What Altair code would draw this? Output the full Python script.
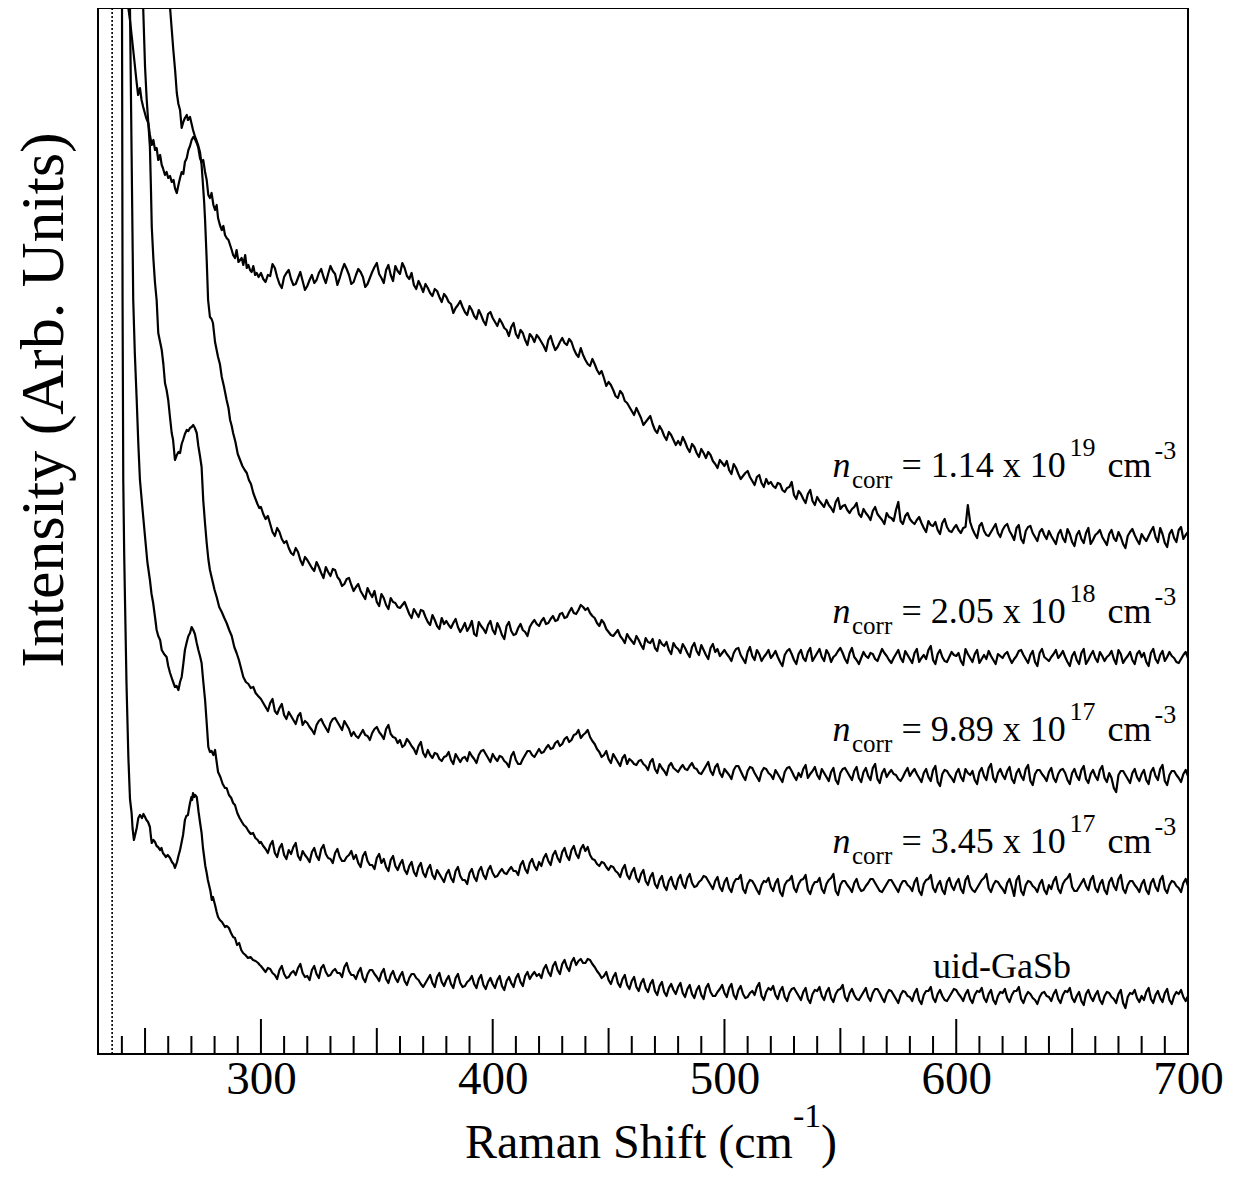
import altair as alt
import pandas as pd

FONT = "Liberation Serif"

# ---------------- data (Raman shift in cm^-1, intensity in arb. units) ----------------
grid_x = list(range(300, 701))

# n = 1.14e19
top_head_x = [242.5, 242.8, 243.5, 244.9, 246.4, 247.0, 247.8, 248.5, 249.2, 250.5, 251.4, 252.1, 252.9, 253.6, 254.3,
              255.0, 255.7, 256.5, 257.2, 257.7, 258.6, 259.3, 260.0, 260.8, 261.5, 262.3, 262.9, 263.7, 264.4, 265.1,
              265.8, 266.5, 267.2, 268.0, 268.7, 269.4, 270.1, 270.8, 271.5, 272.3, 273.0, 273.7, 274.4, 275.1, 275.9,
              276.6, 277.3, 278.0, 278.7, 279.5, 280.2, 280.9, 281.5, 282.3, 283.1, 283.8, 284.5, 285.2, 286.0, 286.7,
              287.4, 288.0, 288.8, 289.5, 290.3, 291.0, 291.7, 292.4, 293.2, 293.9, 294.6, 295.3, 296.0, 296.7, 297.5,
              298.2, 299.0]
top_head_y = [1110, 1046, 1034, 1004, 971, 959, 966, 954, 947, 936, 931, 919, 909, 914, 904,
              906, 894, 899, 889, 886, 879, 882, 876, 878, 872, 874, 866, 861, 869, 876,
              882, 880, 892, 896, 904, 908, 914, 917, 915, 911, 906, 896, 892, 894, 882,
              874, 859, 856, 861, 849, 844, 849, 836, 829, 824, 828, 819, 816, 814, 809,
              804, 799, 796, 804, 792, 794, 796, 789, 799, 786, 789, 784, 782, 788, 779,
              781, 777]
top_grid_y = [
    781, 775, 772, 779, 778, 790, 786, 777, 770, 766, 777, 781, 784, 775, 769, 770, 776, 782, 773, 764,
    768, 774, 779, 771, 774, 781, 785, 777, 771, 780, 788, 783, 780, 769, 776, 784, 790, 785, 779, 770,
    772, 779, 785, 782, 777, 767, 770, 776, 782, 787, 791, 780, 776, 771, 784, 789, 779, 773, 788, 783,
    780, 791, 786, 778, 775, 781, 769, 765, 773, 768, 762, 770, 766, 761, 758, 765, 763, 757, 752, 760,
    757, 752, 750, 741, 746, 749, 753, 747, 742, 739, 748, 744, 738, 735, 744, 739, 733, 729, 740, 742,
    736, 732, 728, 735, 731, 726, 724, 718, 727, 731, 720, 716, 724, 721, 714, 709, 720, 717, 712, 719,
    716, 712, 708, 703, 714, 718, 710, 704, 707, 712, 716, 711, 709, 715, 712, 705, 700, 697, 706, 699,
    694, 690, 688, 695, 690, 684, 680, 683, 676, 668, 672, 669, 664, 658, 656, 663, 660, 653, 651, 647,
    643, 639, 646, 641, 636, 629, 632, 635, 638, 630, 624, 621, 628, 624, 618, 614, 622, 619, 614, 609,
    613, 609, 617, 612, 606, 602, 610, 607, 601, 597, 605, 601, 596, 602, 599, 593, 590, 586, 594, 591,
    588, 593, 584, 580, 590, 586, 580, 575, 578, 581, 583, 577, 573, 569, 577, 579, 571, 567, 575, 570,
    572, 568, 566, 571, 570, 564, 562, 566, 567, 572, 559, 555, 563, 560, 555, 551, 560, 564, 553, 549,
    557, 553, 550, 547, 554, 549, 546, 542, 552, 556, 545, 548, 549, 544, 541, 545, 547, 551, 540, 537,
    545, 541, 538, 534, 543, 547, 540, 537, 534, 530, 541, 537, 536, 533, 544, 552, 533, 530, 538, 541,
    535, 532, 530, 534, 537, 531, 526, 522, 533, 529, 528, 532, 524, 520, 531, 535, 527, 523, 522, 526,
    529, 524, 521, 526, 527, 549, 532, 525, 520, 516, 528, 531, 523, 519, 518, 522, 526, 530, 521, 517,
    524, 528, 530, 523, 519, 514, 526, 529, 515, 511, 523, 527, 528, 521, 517, 513, 522, 525, 519, 515,
    523, 518, 514, 510, 520, 524, 516, 512, 525, 520, 512, 508, 519, 523, 515, 511, 521, 526, 510, 514,
    519, 521, 524, 517, 513, 509, 520, 524, 516, 513, 522, 517, 510, 506, 518, 522, 525, 519, 514, 510,
    520, 516, 513, 518, 523, 527, 517, 512, 526, 520, 511, 507, 520, 524, 516, 512, 524, 527, 515, 519,
    522]

# n = 2.05e18
b_head_x = [260.5, 260.8, 261.5, 262.2, 263.0, 263.7, 264.4, 265.1, 265.8, 266.5, 267.2, 268.0, 268.5, 269.4, 270.1,
            270.7, 271.6, 272.3, 272.9, 273.7, 274.4, 275.0, 275.5, 275.9, 276.6, 277.2, 278.0, 278.7, 279.3, 280.2,
            281.5, 282.3, 283.1, 284.0, 285.2, 286.0, 286.7, 287.4, 288.0, 289.0, 290.0, 291.0, 292.0, 293.0, 293.9,
            294.8, 295.7, 296.7, 297.5, 298.5, 299.3]
b_head_y = [1110, 1046, 1025, 1004, 983, 961, 950, 944, 926, 932, 936, 939, 934, 937, 930,
            924, 917, 913, 909, 902, 889, 869, 852, 834, 794, 754, 737, 735, 731, 712,
            697, 690, 677, 668, 654, 646, 634, 628, 621, 612, 600, 594, 588, 584, 581,
            574, 570, 561, 556, 550, 546]
b_grid_y = [
    547, 540, 535, 538, 530, 522, 518, 526, 522, 515, 511, 513, 506, 501, 499, 506, 502, 494, 489, 497,
    494, 490, 486, 483, 492, 487, 481, 476, 487, 482, 478, 485, 484, 477, 474, 468, 470, 475, 476, 469,
    463, 467, 470, 463, 459, 455, 466, 461, 457, 463, 452, 448, 460, 456, 449, 445, 456, 452, 451, 447,
    446, 449, 452, 446, 440, 436, 445, 441, 437, 444, 443, 437, 432, 429, 439, 434, 428, 425, 436, 430,
    433, 429, 426, 431, 435, 427, 422, 426, 431, 423, 427, 433, 420, 418, 432, 428, 425, 421, 429, 433,
    424, 420, 431, 426, 419, 415, 428, 432, 423, 419, 420, 426, 430, 424, 422, 418, 427, 431, 434, 430,
    428, 433, 436, 430, 431, 435, 438, 433, 434, 440, 441, 436, 437, 442, 446, 441, 440, 444, 449, 447,
    444, 446, 441, 438, 436, 431, 428, 434, 431, 425, 422, 419, 418, 421, 424, 418, 415, 411, 420, 416,
    413, 410, 418, 414, 409, 405, 416, 412, 411, 415, 406, 403, 414, 410, 408, 412, 404, 400, 411, 407,
    405, 401, 410, 406, 401, 397, 407, 411, 403, 399, 409, 404, 399, 395, 406, 410, 402, 405, 398, 401,
    404, 400, 397, 393, 401, 405, 406, 399, 395, 391, 402, 407, 398, 394, 404, 400, 393, 397, 400, 404,
    396, 399, 403, 397, 392, 388, 399, 403, 405, 400, 394, 390, 400, 404, 396, 393, 402, 406, 393, 397,
    401, 405, 397, 393, 404, 400, 392, 397, 399, 403, 406, 401, 395, 391, 401, 406, 397, 394, 390, 396,
    402, 398, 396, 401, 400, 395, 393, 399, 405, 401, 398, 394, 391, 396, 400, 404, 396, 392, 403, 399,
    395, 391, 401, 405, 392, 396, 399, 395, 404, 408, 394, 390, 400, 404, 397, 393, 392, 397, 402, 399,
    398, 401, 393, 389, 405, 400, 396, 392, 400, 404, 391, 395, 399, 395, 403, 398, 394, 390, 400, 398,
    396, 400, 402, 396, 391, 395, 398, 403, 404, 399, 395, 391, 399, 403, 392, 388, 401, 405, 397, 395,
    393, 397, 400, 404, 396, 399, 403, 397, 392, 388, 398, 402, 394, 390, 401, 405, 390, 394, 399, 403,
    396, 392, 402, 398, 393, 397, 399, 403, 395, 390, 404, 400, 391, 395, 398, 402, 394, 390, 400, 403,
    397, 401, 392, 388, 401, 405, 395, 391, 399, 403, 393, 397, 402, 398, 396, 392, 391, 395, 399, 402,
    396]

# n = 9.89e17
c_head_x = [248.9, 249.2, 250.0, 250.7, 251.4, 252.1, 252.5, 252.9, 253.6, 254.3, 255.0, 255.7, 256.5, 257.2, 257.9,
            258.6, 259.3, 260.0, 260.8, 261.5, 262.1, 262.9, 263.7, 264.4, 265.1, 265.8, 266.4, 267.2, 268.0, 268.7,
            269.4, 270.1, 270.8, 271.5, 272.3, 273.0, 273.7, 274.4, 275.1, 275.9, 276.6, 277.3, 278.0, 279.0, 280.0,
            280.9, 282.0, 283.1, 284.2, 285.2, 286.3, 287.4, 288.5, 289.5, 290.5, 291.5, 292.4, 293.5, 294.6, 295.6,
            296.7, 297.7, 298.8, 299.6]
c_head_y = [1110, 1046, 987, 955, 931, 907, 870, 827, 795, 771, 754, 721, 712, 704, 690,
            671, 664, 654, 636, 621, 614, 594, 599, 602, 601, 610, 614, 620, 624, 623,
            626, 627, 629, 626, 621, 608, 598, 587, 554, 530, 511, 495, 484, 474, 464,
            457, 447, 442, 436, 431, 424, 418, 407, 401, 394, 385, 377, 372, 370, 366,
            367, 361, 358, 356]
c_grid_y = [
    355, 351, 347, 343, 351, 355, 343, 340, 346, 350, 339, 335, 342, 338, 334, 330, 338, 341, 329, 333,
    331, 327, 324, 320, 329, 333, 335, 330, 326, 322, 331, 335, 336, 332, 328, 324, 333, 329, 325, 318,
    322, 318, 316, 320, 324, 319, 318, 314, 321, 325, 327, 322, 319, 315, 325, 329, 320, 317, 316, 311,
    314, 307, 309, 315, 312, 308, 305, 300, 308, 312, 301, 297, 304, 299, 296, 301, 300, 295, 293, 297,
    298, 302, 294, 290, 300, 296, 292, 296, 297, 293, 302, 298, 295, 291, 299, 303, 304, 300, 296, 292,
    300, 296, 293, 298, 297, 293, 291, 287, 298, 302, 294, 290, 290, 295, 299, 303, 303, 299, 297, 301,
    305, 301, 302, 306, 309, 305, 306, 311, 313, 308, 310, 315, 317, 312, 314, 319, 320, 324, 316, 319,
    321, 324, 317, 313, 310, 305, 302, 297, 299, 303, 295, 291, 300, 296, 292, 288, 296, 299, 290, 295,
    293, 290, 289, 293, 294, 290, 288, 284, 292, 295, 285, 281, 290, 286, 283, 279, 288, 291, 286, 284,
    282, 286, 289, 285, 284, 288, 291, 286, 285, 281, 280, 284, 288, 292, 283, 279, 287, 290, 281, 277,
    285, 282, 279, 275, 284, 288, 288, 283, 278, 274, 283, 287, 286, 281, 277, 273, 282, 286, 285, 281,
    279, 275, 284, 280, 276, 272, 282, 286, 287, 283, 278, 274, 281, 277, 285, 289, 276, 280, 283, 287,
    279, 275, 285, 281, 277, 273, 282, 286, 274, 270, 281, 285, 286, 282, 278, 274, 283, 287, 276, 272,
    282, 286, 278, 274, 286, 290, 275, 271, 281, 285, 277, 281, 284, 280, 279, 275, 273, 277, 282, 286,
    278, 282, 285, 280, 276, 272, 281, 285, 277, 273, 284, 288, 272, 268, 280, 284, 283, 279, 276, 272,
    281, 285, 277, 273, 285, 281, 279, 283, 274, 270, 282, 286, 278, 274, 286, 290, 276, 272, 281, 285,
    279, 275, 283, 287, 275, 271, 281, 285, 278, 274, 285, 289, 273, 269, 280, 284, 284, 280, 277, 273,
    282, 286, 276, 272, 280, 284, 285, 281, 274, 270, 281, 285, 278, 274, 284, 288, 275, 271, 280, 284,
    278, 274, 284, 288, 276, 272, 281, 276, 266, 262, 279, 283, 283, 279, 275, 271, 281, 285, 277, 273,
    280, 284, 274, 270, 282, 286, 278, 274, 285, 289, 273, 269, 279, 283, 283, 279, 276, 272, 280, 284,
    278]

# n = 3.45e17
d_head_x = [243.3, 243.5, 244.2, 244.9, 245.6, 246.4, 247.1, 247.8, 248.9, 250.0, 251.0, 252.1, 252.8, 253.5, 254.3,
            255.0, 255.7, 256.5, 257.2, 258.2, 259.3, 260.0, 260.8, 261.8, 262.9, 263.6, 264.4, 265.1, 265.8, 266.5,
            267.2, 268.0, 268.7, 269.4, 270.1, 270.8, 271.5, 272.3, 273.0, 273.7, 274.4, 275.1, 275.9, 276.6, 277.3,
            278.0, 278.7, 279.5, 280.2, 280.9, 281.5, 282.5, 283.5, 284.5, 285.2, 286.2, 287.2, 288.0, 288.8, 289.8,
            290.8, 291.8, 292.6, 293.6, 294.6, 295.6, 296.6, 297.6, 298.6, 299.4]
d_head_y = [1110, 1046, 900, 754, 700, 654, 610, 574, 545, 517, 492, 474, 460, 451, 437,
            424, 418, 414, 404, 400, 397, 388, 381, 374, 367, 368, 364, 372, 377, 390,
            404, 412, 418, 421, 427, 424, 420, 411, 404, 398, 391, 373, 354, 331, 307,
            302, 303, 299, 304, 292, 282, 277, 270, 266, 266, 259, 256, 251, 249, 241,
            236, 232, 229, 227, 223, 220, 221, 216, 214, 211]
d_grid_y = [
    212, 208, 205, 201, 209, 213, 201, 197, 206, 210, 199, 195, 204, 200, 207, 211, 198, 194, 203, 199,
    196, 192, 202, 206, 198, 194, 205, 209, 200, 196, 195, 191, 201, 205, 197, 193, 193, 197, 199, 203,
    195, 199, 191, 187, 198, 202, 193, 189, 189, 185, 196, 200, 191, 195, 187, 183, 194, 198, 188, 184,
    190, 194, 184, 180, 188, 192, 182, 178, 187, 191, 181, 177, 185, 189, 179, 175, 184, 180, 176, 172,
    180, 184, 176, 172, 183, 187, 178, 174, 174, 170, 181, 185, 177, 173, 183, 187, 179, 175, 184, 188,
    181, 177, 178, 182, 185, 181, 180, 184, 187, 183, 183, 179, 189, 193, 185, 181, 191, 195, 188, 184,
    192, 188, 196, 200, 193, 189, 199, 203, 196, 192, 202, 206, 198, 194, 204, 208, 200, 196, 205, 209,
    203, 207, 199, 195, 194, 190, 188, 192, 191, 187, 184, 188, 187, 183, 181, 177, 185, 189, 179, 175,
    182, 186, 176, 172, 180, 184, 173, 169, 177, 181, 170, 166, 174, 178, 168, 164, 173, 177, 169, 165,
    175, 179, 170, 166, 176, 180, 171, 167, 168, 172, 174, 178, 177, 173, 169, 165, 173, 177, 167, 163,
    172, 176, 166, 162, 171, 175, 175, 179, 165, 161, 170, 174, 173, 169, 164, 160, 169, 173, 172, 176,
    167, 163, 171, 175, 162, 158, 169, 173, 174, 178, 166, 162, 170, 174, 175, 179, 164, 160, 168, 172,
    172, 176, 165, 161, 170, 174, 176, 180, 163, 159, 169, 173, 173, 169, 166, 162, 171, 175, 167, 163,
    164, 168, 171, 175, 175, 171, 167, 163, 162, 166, 170, 174, 174, 170, 166, 162, 169, 173, 173, 169,
    167, 163, 172, 176, 163, 159, 170, 174, 175, 179, 166, 162, 169, 173, 164, 160, 172, 176, 168, 164,
    171, 175, 165, 161, 174, 178, 168, 164, 162, 166, 170, 174, 176, 180, 166, 162, 169, 173, 172, 168,
    165, 161, 171, 175, 167, 158, 174, 178, 163, 159, 169, 173, 172, 168, 166, 162, 170, 174, 164, 160,
    169, 165, 173, 177, 165, 161, 170, 174, 176, 180, 167, 163, 163, 167, 171, 175, 168, 164, 174, 178,
    166, 162, 170, 174, 164, 160, 172, 176, 168, 164, 175, 179, 165, 161, 169, 173, 173, 169, 166, 162,
    170, 174, 164, 160, 171, 175, 167, 163, 174, 178, 165, 161, 169, 173, 172, 168, 166, 162, 171, 175,
    168]

# uid-GaSb
u_head_x = [239.9, 240.06, 240.3, 240.6, 241.0, 241.35, 242.0, 242.8, 243.5, 244.2, 244.6, 245.2, 245.8, 246.4, 247.1,
            247.8, 248.7, 249.3, 250.0, 250.6, 251.3, 252.1, 252.5, 252.9, 253.6, 254.3, 255.0, 255.6, 256.5, 257.1,
            257.7, 258.4, 259.0, 259.8, 260.8, 261.6, 262.3, 262.9, 263.8, 264.4, 265.1, 265.8, 266.4, 267.2, 267.8,
            268.5, 269.0, 269.4, 270.0, 270.3, 270.7, 271.2, 271.6, 272.3, 272.7, 273.1, 273.7, 274.4, 275.0, 275.4,
            276.0, 276.6, 277.1, 277.6, 278.2, 278.8, 279.3, 280.2, 280.9, 281.5, 282.3, 283.2, 284.5, 285.3, 286.2,
            287.1, 288.0, 288.8, 289.7, 290.6, 291.5, 292.3, 293.3, 294.4, 295.5, 296.6, 297.7, 298.8, 299.5]
u_head_y = [1110, 1046, 754, 574, 500, 454, 370, 297, 255, 241, 226, 214, 220, 226, 236,
            239, 236, 240, 237, 234, 232, 227, 218, 211, 214, 212, 208, 207, 204, 206,
            201, 199, 197, 199, 196, 192, 190, 186, 192, 198, 204, 212, 219, 234, 238,
            239, 246, 251, 257, 254, 261, 257, 259, 257, 250, 242, 232, 221, 206, 199,
            188, 181, 174, 169, 163, 154, 157, 149, 142, 137, 134, 132, 127, 128, 126,
            121, 117, 116, 109, 111, 104, 101, 99, 96, 97, 94, 93, 91, 89]
u_grid_y = [
    88, 85, 82, 86, 85, 81, 79, 75, 84, 88, 80, 76, 77, 81, 83, 79, 86, 90, 81, 77,
    78, 74, 84, 88, 80, 76, 86, 89, 82, 78, 79, 83, 85, 81, 81, 77, 87, 91, 83, 79,
    79, 75, 82, 86, 76, 72, 80, 84, 84, 80, 77, 73, 81, 85, 75, 71, 79, 83, 76, 72,
    78, 82, 73, 69, 76, 80, 80, 76, 74, 70, 67, 71, 75, 79, 71, 67, 77, 81, 72, 68,
    74, 78, 70, 66, 76, 80, 71, 67, 68, 72, 74, 78, 70, 66, 75, 79, 69, 65, 72, 76,
    70, 66, 74, 78, 68, 64, 73, 77, 71, 67, 76, 80, 72, 68, 78, 82, 75, 79, 82, 78,
    80, 76, 85, 89, 82, 78, 88, 92, 84, 80, 90, 94, 87, 83, 92, 96, 89, 93, 95, 91,
    91, 95, 94, 90, 87, 83, 80, 76, 78, 82, 74, 70, 77, 81, 71, 67, 75, 79, 69, 65,
    73, 77, 67, 63, 71, 75, 66, 62, 70, 74, 63, 59, 68, 72, 62, 58, 66, 70, 64, 60,
    67, 71, 61, 57, 65, 69, 60, 56, 64, 68, 59, 55, 66, 70, 62, 58, 58, 62, 65, 69,
    61, 57, 66, 70, 59, 55, 64, 68, 60, 56, 57, 61, 63, 59, 67, 71, 58, 54, 62, 66,
    64, 68, 59, 55, 63, 67, 57, 53, 61, 65, 66, 62, 58, 54, 62, 66, 55, 51, 60, 64,
    63, 67, 58, 54, 62, 66, 56, 52, 60, 64, 65, 69, 57, 53, 61, 65, 59, 55, 54, 58,
    62, 66, 57, 53, 61, 65, 65, 61, 56, 52, 60, 64, 63, 59, 55, 51, 59, 63, 62, 58,
    57, 53, 61, 65, 54, 50, 59, 63, 63, 67, 56, 52, 60, 64, 58, 54, 53, 57, 61, 65,
    64, 60, 57, 53, 60, 64, 55, 51, 59, 63, 62, 66, 56, 52, 60, 64, 54, 50, 58, 62,
    61, 65, 56, 52, 59, 63, 63, 67, 55, 51, 58, 62, 60, 56, 54, 50, 57, 61, 62, 58,
    57, 53, 60, 64, 55, 51, 59, 63, 62, 66, 56, 52, 58, 62, 53, 49, 60, 64, 57, 53,
    59, 63, 54, 50, 58, 62, 61, 57, 55, 51, 60, 64, 51, 46, 57, 61, 60, 64, 56, 52,
    58, 54, 62, 66, 55, 51, 59, 63, 56, 52, 61, 65, 54, 50, 58, 62, 60, 64, 57, 53,
    58]

series = [
    ("1.14e19", top_head_x, top_head_y, top_grid_y),
    ("2.05e18", b_head_x, b_head_y, b_grid_y),
    ("9.89e17", c_head_x, c_head_y, c_grid_y),
    ("3.45e17", d_head_x, d_head_y, d_grid_y),
    ("uid", u_head_x, u_head_y, u_grid_y),
]

# label texts
label_mant = ["= 1.14 x 10", "= 2.05 x 10", "= 9.89 x 10", "= 3.45 x 10"]
label_exp = ["19", "18", "17", "17"]
label_x = [546.6, 546.6, 546.6, 546.6]
label_y = [577, 431, 313, 201]
uid_text = "uid-GaSb"
uid_x, uid_y = 590.0, 76

# axis ticks
major_ticks = [300, 400, 500, 600, 700]
medium_ticks = [250, 350, 450, 550, 650]
minor_ticks = [240, 260, 270, 280, 290, 310, 320, 330, 340, 360, 370, 380, 390,
               410, 420, 430, 440, 460, 470, 480, 490, 510, 520, 530, 540,
               560, 570, 580, 590, 610, 620, 630, 640, 660, 670, 680, 690]
laser_line = [235.8]

X_DOMAIN = [229.7, 700.0]
Y_DOMAIN = [0, 1046]

# ---------------- build tables ----------------
rows = []
for name, hx, hy, gy in series:
    assert len(hx) == len(hy), name
    assert len(gy) == len(grid_x), (name, len(gy))
    xs = hx + grid_x
    ys = hy + gy
    for i, (a, b) in enumerate(zip(xs, ys)):
        rows.append({"series": name, "shift": a, "intensity": b, "order": i})
df = pd.DataFrame(rows)

df_lab = pd.DataFrame({"x": label_x, "y": label_y, "mant": label_mant, "exp": label_exp})
df_uid = pd.DataFrame({"x": [uid_x], "y": [uid_y], "t": [uid_text]})

W, H = 1090, 1046
xscale = alt.Scale(domain=X_DOMAIN, nice=False, zero=False)
yscale = alt.Scale(domain=Y_DOMAIN, nice=False, zero=False)
xaxis = alt.Axis(values=major_ticks, ticks=False, domain=False, grid=False, title=None,
                 labelFont=FONT, labelFontSize=47, labelColor="black", labelPadding=2,
                 labelOverlap=False, labelFlush=False, format="d")


def X(f):
    return alt.X(f, type="quantitative", scale=xscale, axis=xaxis, title=None)


def Y(f):
    return alt.Y(f, type="quantitative", scale=yscale, axis=None, title=None)


lines = alt.Chart(df).mark_line(color="black", strokeWidth=2.2, clip=True, strokeJoin="round").encode(
    x=X("shift"), y=Y("intensity"), detail="series:N", order="order:Q")

laser = alt.Chart(pd.DataFrame({"x": laser_line})).mark_rule(
    color="black", strokeWidth=1.6, strokeDash=[2, 2]).encode(x=X("x"))


def tick_layer(vals, length):
    return alt.Chart(pd.DataFrame({"t": vals})).mark_rule(color="black", strokeWidth=2).encode(
        x=X("t"), y=alt.value(H), y2=alt.value(H - length))


ticks = tick_layer(minor_ticks, 18) + tick_layer(medium_ticks, 26) + tick_layer(major_ticks, 35)

base_lab = alt.Chart(df_lab)
tprops = dict(align="left", baseline="alphabetic", font=FONT, color="black")
lab_n = base_lab.mark_text(text="n", fontSize=36, fontStyle="italic", **tprops).encode(x=X("x"), y=Y("y"))
lab_corr = base_lab.mark_text(text="corr", fontSize=25, dx=19.5, dy=11, **tprops).encode(x=X("x"), y=Y("y"))
lab_mant = base_lab.mark_text(fontSize=36, dx=69, **tprops).encode(x=X("x"), y=Y("y"), text="mant:N")
lab_exp = base_lab.mark_text(fontSize=26, dx=237, dy=-21, **tprops).encode(x=X("x"), y=Y("y"), text="exp:N")
lab_cm = base_lab.mark_text(text="cm", fontSize=36, dx=275, **tprops).encode(x=X("x"), y=Y("y"))
lab_m3 = base_lab.mark_text(text="-3", fontSize=26, dx=322, dy=-18, **tprops).encode(x=X("x"), y=Y("y"))
lab_uid = alt.Chart(df_uid).mark_text(fontSize=36, **tprops).encode(x=X("x"), y=Y("y"), text="t:N")

# axis titles
one = pd.DataFrame({"a": [0]})
xt1 = alt.Chart(one).mark_text(text="Raman Shift (cm", fontSize=48, **tprops).encode(
    x=alt.value(367), y=alt.value(1150))
xt2 = alt.Chart(one).mark_text(text="-1", fontSize=34, **tprops).encode(
    x=alt.value(695), y=alt.value(1119))
xt3 = alt.Chart(one).mark_text(text=")", fontSize=48, **tprops).encode(
    x=alt.value(723), y=alt.value(1150))
yt = alt.Chart(one).mark_text(text="Intensity (Arb. Units)", fontSize=62, angle=270, align="center",
                              baseline="alphabetic", font=FONT, color="black").encode(
    x=alt.value(-35), y=alt.value(392))

chart = alt.layer(
    laser, ticks, lines, lab_n, lab_corr, lab_mant, lab_exp, lab_cm, lab_m3, lab_uid, xt1, xt2, xt3, yt
).properties(
    width=W, height=H,
    autosize=alt.AutoSizeParams(type="none"),
    padding={"left": 90, "top": 0, "right": 40, "bottom": 140},
    background="white",
).configure_view(stroke="black", strokeWidth=2)

chart.save("out.html", embed_options={"renderer": "svg", "actions": False})
